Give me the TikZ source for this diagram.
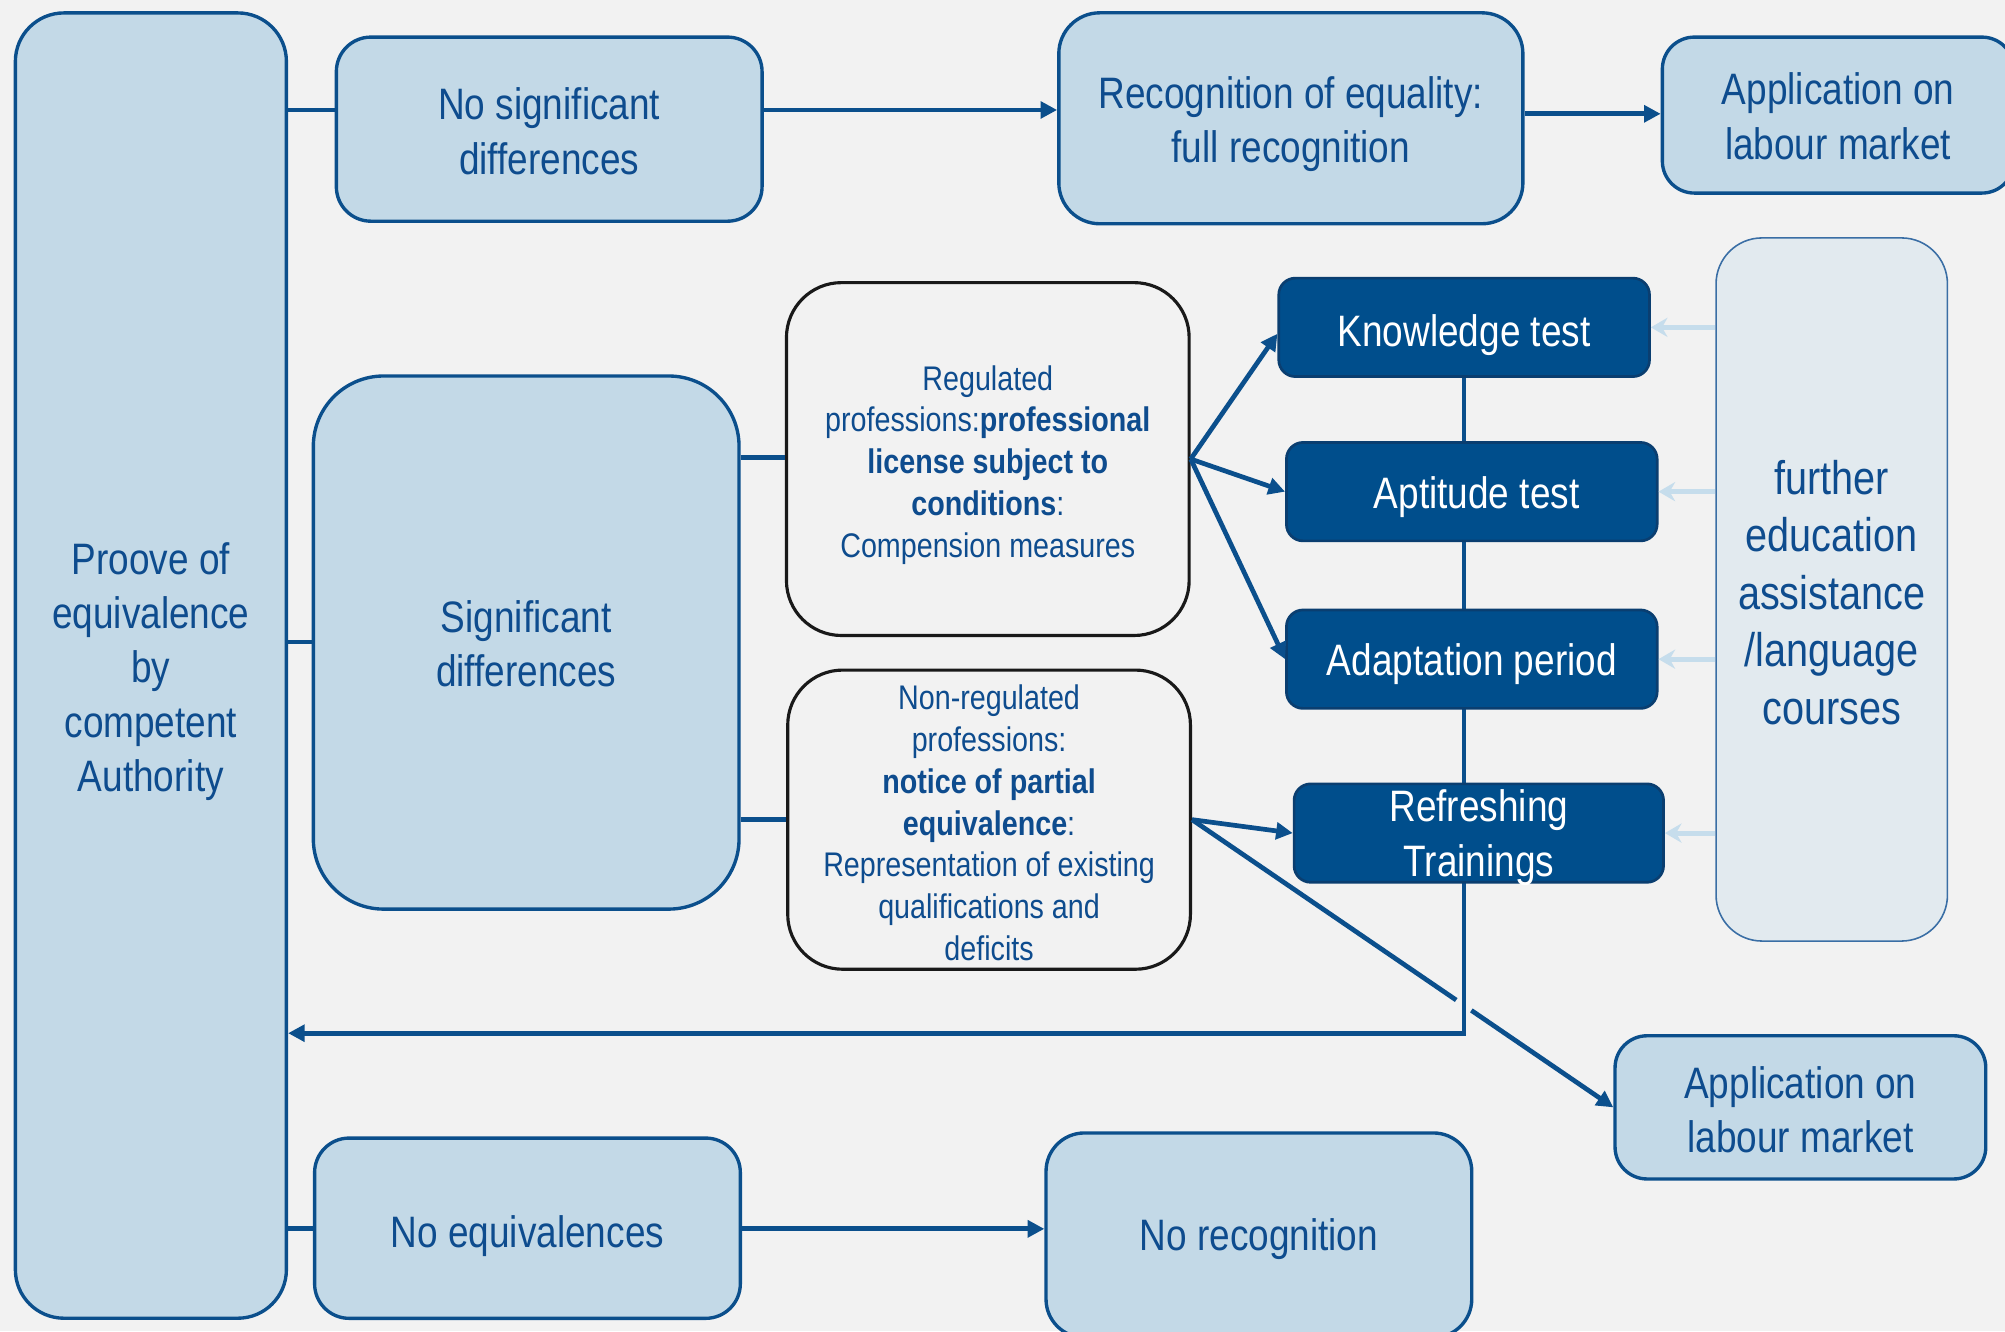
\documentclass[tikz,border=0pt]{standalone}
\usepackage{fontspec}
\setmainfont[FakeStretch=0.84]{Liberation Sans}
\usetikzlibrary{arrows.meta,calc}
\definecolor{bgc}{HTML}{F2F2F2}
\definecolor{lfill}{HTML}{C3D9E7}
\definecolor{dblue}{HTML}{0B4F8C}
\definecolor{dfill}{HTML}{004E8C}
\definecolor{dline}{HTML}{0A3E70}
\definecolor{tblue}{HTML}{0E4C8E}
\definecolor{febox}{HTML}{E2EAEF}
\definecolor{feline}{HTML}{3A6EA5}
\definecolor{larrow}{HTML}{C6DDEC}
\pgfdeclarelayer{back}\pgfdeclarelayer{bg}
\pgfsetlayers{back,bg,main}
\newcommand\fbig{\fontsize{19.6}{24.2}\selectfont}
\newcommand\fsmall{\fontsize{15.2}{18.6}\selectfont}
\newcommand\ffe{\fontsize{21}{25.6}\selectfont}
\newcommand\mystrut[1]{\rule{0pt}{#1}}
\tikzset{
  lbox/.style={draw=dblue, line width=1.5pt, fill=lfill, rounded corners=#1,
    text=tblue, align=center, font=\fbig, inner sep=0pt},
  wbox/.style={draw=black!90, line width=1.4pt, fill=bgc, rounded corners=#1,
    text=tblue, align=center, font=\fsmall, inner sep=0pt},
  dbox/.style={draw=dline, line width=1.2pt, fill=dfill, rounded corners=0.26cm,
    text=white, align=center, font=\fbig, inner sep=0pt, minimum width=5.8cm, minimum height=1.54cm},
  fbox/.style={draw=feline, line width=0.7pt, fill=febox, rounded corners=0.72cm,
    text=tblue, align=center, font=\ffe, inner sep=0pt},
  conn/.style={draw=dblue, line width=2.1pt},
  arr/.style={-{Triangle[length=2.6mm,width=2.6mm]}},
  larr/.style={draw=larrow, line width=2.2pt, -{Stealth[length=2.6mm,width=3mm]}}
}
\begin{document}
\begin{tikzpicture}[x=0.02cm, y=-0.02cm]
\useasboundingbox (0,0) rectangle (1568,1041);
\begin{pgfonlayer}{back}
  \fill[bgc] (0,0) rectangle (1568,1041);
\end{pgfonlayer}

% nodes
\node[lbox=0.76cm, minimum width=4.24cm, minimum height=20.42cm] (L) at (118,520.5)
  {\mystrut{19.4pt}Proove of\\equivalence\\by\\competent\\Authority};
\node[lbox=0.54cm, minimum width=6.66cm, minimum height=2.88cm] (NS) at (429.5,101)
  {\mystrut{16pt}No significant\\differences};
\node[lbox=0.64cm, minimum width=7.26cm, minimum height=3.3cm] (RE) at (1009.5,92.5)
  {\mystrut{19.4pt}Recognition of equality:\\full recognition};
\node[lbox=0.5cm, minimum width=5.5cm, minimum height=2.44cm] (AP1) at (1437.5,90)
  {\mystrut{15.4pt}Application on\\labour market};
\node[lbox=1.1cm, minimum width=6.66cm, minimum height=8.34cm] (SD) at (411.5,502.5)
  {\mystrut{15.4pt}Significant\\differences};
\node[wbox=0.86cm, minimum width=6.3cm, minimum height=5.52cm] (RG) at (772.5,359)
  {\mystrut{16.2pt}Regulated\\professions:\textbf{professional}\\\textbf{license subject to}\\\textbf{conditions}:\\Compension measures};
\node[wbox=0.86cm, minimum width=6.3cm, minimum height=4.68cm] (NR) at (773.5,641)
  {\mystrut{13.9pt}Non-regulated\\professions:\\\textbf{notice of partial}\\\textbf{equivalence}:\\Representation of existing\\qualifications and\\deficits};
\node[dbox] (KT) at (1145,256) {\mystrut{21.1pt}Knowledge test};
\node[dbox] (AT) at (1151,384.5) {\mystrut{18.8pt}\hspace{0.15cm}Aptitude test};
\node[dbox] (AD) at (1151,515.5) {\mystrut{18.8pt}Adaptation period};
\node[dbox, minimum width=5.78cm] (RF) at (1156.5,651.5) {Refreshing\\\smash{Trainings}};
\node[lbox=0.5cm, minimum width=5.8cm, minimum height=2.24cm] (AP2) at (1408,866)
  {\mystrut{16.6pt}Application on\\labour market};
\node[fbox, minimum width=3.62cm, minimum height=11cm] (FE) at (1432.5,461)
  {\mystrut{17.6pt}further\\education\\assistance\\/language\\courses};
\node[lbox=0.54cm, minimum width=6.66cm, minimum height=2.82cm] (NE) at (412.5,960.5)
  {\mystrut{21.1pt}No equivalences};
\node[lbox=0.6cm, minimum width=6.66cm, minimum height=3.2cm] (NRC) at (984.5,966)
  {\mystrut{17.7pt}No recognition};

% connectors behind the boxes
\begin{pgfonlayer}{bg}
  \draw[conn, arr] (KT.south) -- (KT.south |- 0,808) -- (L.east |- 0,808);
\end{pgfonlayer}

\draw[conn] (L.east |- 0,86) -- (NS.west |- 0,86);
\draw[conn, arr] (NS.east |- 0,86) -- (RE.west |- 0,86);
\draw[conn, arr] (RE.east |- 0,89) -- (AP1.west |- 0,89);

\draw[conn] (L.east |- 0,502) -- (SD.west |- 0,502);
\draw[conn] (SD.east |- 0,358) -- (RG.west |- 0,358);
\draw[conn] (SD.east |- 0,641) -- (NR.west |- 0,641);

\draw[conn, arr] (RG.east) -- ($(KT.west)+(0,5)$);
\draw[conn, arr] (RG.east) -- (AT.west);
\draw[conn, arr] (RG.east) -- (AD.west);

\draw[conn, arr] (NR.east) -- (RF.west);
\draw[conn] (NR.east) -- ($(NR.east)!0.627!(AP2.west)$);
\draw[conn, arr] ($(NR.east)!0.663!(AP2.west)$) -- (AP2.west);

\draw[larr] (FE.west |- KT.east) -- (KT.east);
\draw[larr] (FE.west |- AT.east) -- (AT.east);
\draw[larr] (FE.west |- AD.east) -- (AD.east);
\draw[larr] (FE.west |- RF.east) -- (RF.east);

\draw[conn] (L.east |- 0,961) -- (NE.west |- 0,961);
\draw[conn, arr] (NE.east |- 0,961) -- (NRC.west |- 0,961);
\end{tikzpicture}
\end{document}
